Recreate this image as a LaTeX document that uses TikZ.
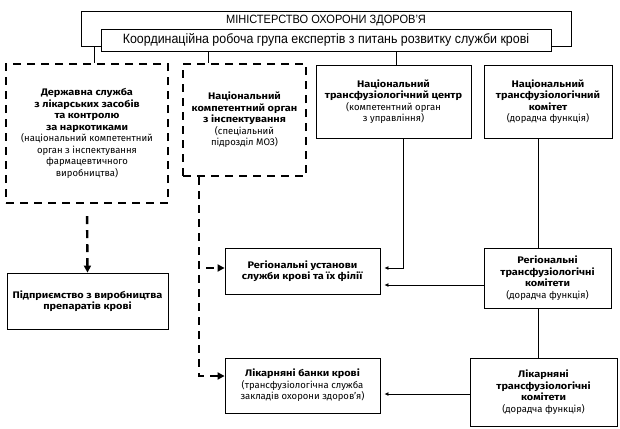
\documentclass[tikz,border=0pt]{standalone}
\usepackage{fontspec}
\setmainfont{Fira Sans}[BoldFeatures={FakeStretch=1.15}]
\newfontfamily\headfont{Liberation Sans}[FakeStretch=0.92]
\usetikzlibrary{arrows.meta}

\begin{document}
\begin{tikzpicture}[x=1pt, y=-1pt, every node/.style={font=\fontsize{9.5}{11.5}\selectfont}, box/.style={draw, line width=0.8pt, align=center, inner sep=2pt}, dbox/.style={draw, line width=2.4pt, dash pattern=on 8pt off 6pt, align=center, inner sep=2pt}, head/.style={box, font=\headfont\fontsize{12}{14}\selectfont}, arrow/.style={-{Latex[length=4pt,width=4pt]}, line width=0.8pt, shorten >=4pt}, darrow/.style={-{Triangle[length=7pt,width=7pt]}, line width=2.4pt, dash pattern=on 8pt off 6pt}]
\useasboundingbox (0,0) rectangle (620,428);
% top level
\node[head, anchor=north, minimum width=490pt, text height=9pt, text depth=20pt, inner ysep=3pt] (ministry) at (326,11) {МІНІСТЕРСТВО ОХОРОНИ ЗДОРОВ’Я};
\node[head, fill=white, minimum width=450pt, minimum height=22pt, font=\headfont\fontsize{13.5}{15}\selectfont] (coord) at (326,40) {Координаційна робоча група експертів з питань розвитку служби крові};
% second row
\node[dbox, minimum width=162pt, minimum height=139pt] (lsz) at (87,133.5) {\textbf{Державна служба}\\\textbf{з лікарських засобів}\\\textbf{та контролю}\\\textbf{за наркотиками}\\(національний компетентний\\орган з інспектування\\фармацевтичного\\виробництва)};
\node[dbox, minimum width=123pt, minimum height=112pt] (nko) at (244.5,120) {\textbf{Національний}\\\textbf{компетентний орган}\\\textbf{з інспектування}\\(спеціальний\\підрозділ МОЗ)};
\node[box, minimum width=155pt, minimum height=73pt] (ntc) at (393.5,101.5) {\textbf{Національний}\\\textbf{трансфузіологічний центр}\\(компетентний орган\\з управління)};
\node[box, minimum width=128pt, minimum height=73pt] (ntk) at (548,101.5) {\textbf{Національний}\\\textbf{трансфузіологічний}\\\textbf{комітет}\\(дорадча функція)};
% lower rows
\node[box, minimum width=161pt, minimum height=56pt] (pvk) at (87.5,301) {\textbf{Підприємство з виробництва}\\\textbf{препаратів крові}};
\node[box, minimum width=155pt, minimum height=46pt] (rus) at (302.5,271) {\textbf{Регіональні установи}\\\textbf{служби крові та їх філії}};
\node[box, minimum width=155pt, minimum height=55pt] (lbk) at (302.5,385.5) {\textbf{Лікарняні банки крові}\\(трансфузіологічна служба\\закладів охорони здоров’я)};
\node[box, minimum width=127pt, minimum height=60pt] (rtk) at (547.5,278) {\textbf{Регіональні}\\\textbf{трансфузіологічні}\\\textbf{комітети}\\(дорадча функція)};
\node[box, minimum width=147pt, minimum height=68pt] (ltk) at (543.5,392) {\textbf{Лікарняні}\\\textbf{трансфузіологічні}\\\textbf{комітети}\\(дорадча функція)};
% connectors
\draw[line width=0.8pt] ([xshift=7pt]lsz.north) -- ([xshift=7pt]lsz.north |- ministry.south);
\draw[line width=0.8pt] ([xshift=-36.5pt]nko.north) -- ([xshift=-36.5pt]nko.north |- coord.south);
\draw[line width=0.8pt] ([xshift=2.5pt]ntc.north) -- ([xshift=2.5pt]ntc.north |- coord.south);
\draw[line width=0.8pt] ([xshift=-10pt]ntk.south) -- ([xshift=-10pt]ntk.south |- rtk.north);
\draw[line width=0.8pt] ([xshift=-9.5pt]rtk.south) -- ([xshift=-9.5pt]rtk.south |- ltk.north);
\draw[arrow] ([xshift=9.5pt]ntc.south) |- ([yshift=3pt]rus.east);
\draw[arrow] ([yshift=-7pt]rtk.west) -- ([yshift=-7pt]rtk.west -| rus.east);
\draw[arrow] ([yshift=-2pt]ltk.west) -- ([yshift=-2pt]ltk.west -| lbk.east);
\draw[darrow, shorten <=12pt] (lsz.south) -- (pvk.north);
\draw[darrow] ([xshift=-45.5pt]nko.south) |- ([yshift=3pt]rus.west);
\draw[darrow] ([xshift=-45.5pt]nko.south) |- ([yshift=9.5pt]lbk.west);
\end{tikzpicture}
\end{document}
